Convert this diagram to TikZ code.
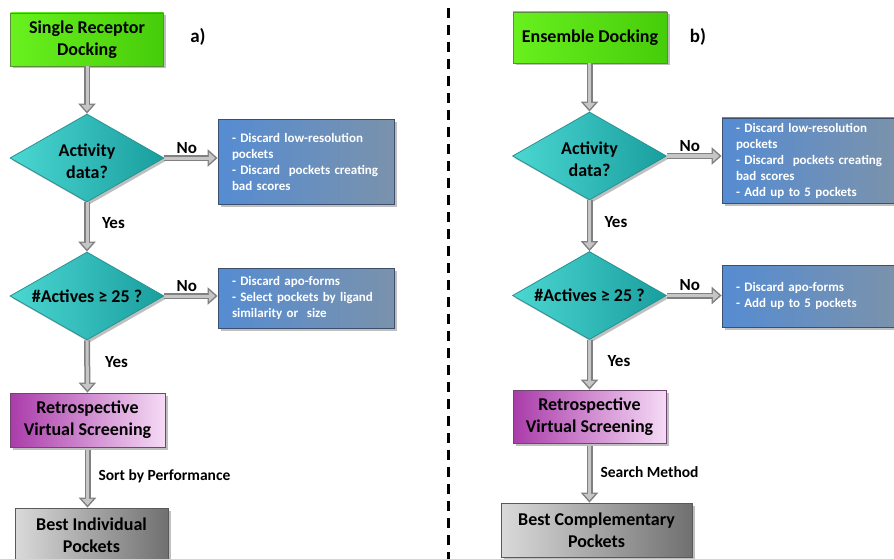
\documentclass[tikz,border=0pt]{standalone}
\usepackage{fontspec}
\setmainfont{Carlito}
\usetikzlibrary{shapes.geometric,arrows.meta,shadows}
\definecolor{grL}{RGB}{105,240,30}
\definecolor{grR}{RGB}{70,205,10}
\definecolor{grB}{RGB}{90,140,60}
\definecolor{tlL}{RGB}{75,215,210}
\definecolor{tlR}{RGB}{25,158,158}
\definecolor{tlB}{RGB}{40,145,145}
\definecolor{blL}{RGB}{85,140,210}
\definecolor{blR}{RGB}{122,146,172}
\definecolor{blB}{RGB}{60,80,110}
\definecolor{puL}{RGB}{170,60,170}
\definecolor{puR}{RGB}{245,218,245}
\definecolor{puB}{RGB}{110,70,110}
\definecolor{gyL}{RGB}{218,218,218}
\definecolor{gyR}{RGB}{112,112,112}
\definecolor{gyB}{RGB}{90,90,90}
\definecolor{arD}{RGB}{128,128,128}
\definecolor{arL}{RGB}{198,198,198}
\newcommand{\twolines}[2]{\raisebox{-5pt}[\height][\depth]{\begin{tabular}{@{}c@{}}#1\\#2\end{tabular}}}
\tikzset{
  base/.style={font=\bfseries\fontsize{18}{22}\selectfont, align=center, inner sep=0pt, line width=0.8pt,
    drop shadow={shadow xshift=2.5pt,shadow yshift=-2.5pt,opacity=0.5}},
  greenbox/.style={base, rectangle, draw=grB, left color=grL, right color=grR},
  decision/.style={base, diamond, aspect=1.75, draw=tlB, left color=tlL, right color=tlR,
    minimum width=154pt, minimum height=88pt},
  bluebox/.style={base, rectangle, draw=blB, left color=blL, right color=blR, text=white,
    font=\bfseries\fontsize{13}{16}\selectfont, align=left, inner xsep=14pt},
  purplebox/.style={base, rectangle, draw=puB, left color=puL, right color=puR},
  graybox/.style={base, rectangle, draw=gyB, left color=gyL, right color=gyR},
  lbl/.style={font=\bfseries\fontsize{17}{20}\selectfont, inner sep=0pt},
  slbl/.style={font=\bfseries\fontsize{15.5}{18}\selectfont, inner sep=0pt},
  garrow/.style={draw=arD, line width=6pt, -{Triangle[length=10pt,width=17pt]},
    postaction={draw=arL, line width=3pt, shorten >=2.3pt, -{Triangle[length=6.4pt,width=11pt]}}}
}
\begin{document}
\begin{tikzpicture}[x=1pt,y=-1pt]
\useasboundingbox (0,0) rectangle (894,559);
% ---------- left: a) ----------
\node[greenbox, minimum width=153pt, minimum height=53pt] (g1) at (87,39.5) {Single Receptor\\Docking};
\node[lbl, font=\bfseries\fontsize{19}{22}\selectfont] (la) at (198,37) {a)};
\node[decision] (d1) at (87,158) {\twolines{Activity}{data?}};
\node[bluebox, minimum height=85pt, text width=148pt] (b1) at (306,162)
  {\mbox{- Discard low-resolution}\\pockets\\\mbox{- Discard\ \ pockets creating}\\bad scores};
\node[decision] (d2) at (87,296) {\#Actives ≥ 25 ?};
\node[bluebox, minimum height=60pt, text width=148pt] (b2) at (306,298)
  {\mbox{- Discard apo-forms}\\\mbox{- Select pockets by ligand}\\\mbox{similarity or\ \ size}};
\node[purplebox, minimum width=155pt, minimum height=54pt] (p1) at (87.5,420) {Retrospective\\Virtual Screening};
\node[graybox, minimum width=153pt, minimum height=54pt] (q1) at (91.5,535) {Best Individual\\Pockets};

\draw[garrow] (g1.south) -- (d1.north);
\draw[garrow] (d1.east) -- (d1.east -| b1.west) node[lbl, pos=0.42, above=1.5pt] {No};
\draw[garrow] (d1.south) -- (d2.north) node[lbl, pos=0.42, right=12pt] {Yes};
\draw[garrow] (d2.east) -- (d2.east -| b2.west) node[lbl, pos=0.42, above=1.5pt] {No};
\draw[garrow] (d2.south) -- (p1.north) node[lbl, pos=0.42, right=15pt] {Yes};
\draw[garrow] ([yshift=-3pt]p1.south) -- (q1.north -| p1.south) node[slbl, pos=0.46, right=8pt] {Sort by Performance};

% ---------- divider ----------
\draw[line width=3pt, dash pattern=on 10pt off 7pt] (448,8) -- (448,559);

% ---------- right: b) ----------
\node[greenbox, minimum width=154pt, minimum height=51pt] (g2) at (590,37.5) {Ensemble Docking};
\node[lbl, font=\bfseries\fontsize{19}{22}\selectfont] (lb) at (698,37) {b)};
\node[decision] (d3) at (589.5,156) {\twolines{Activity}{data?}};
\node[bluebox, minimum height=85pt, text width=144pt] (b3) at (808,160.5)
  {\mbox{- Discard low-resolution}\\pockets\\\mbox{- Discard\ \ pockets creating}\\bad scores\\\mbox{- Add up to 5 pockets}};
\node[decision] (d4) at (589.5,295.5) {\#Actives ≥ 25 ?};
\node[bluebox, minimum height=62pt, text width=144pt] (b4) at (808,296)
  {\mbox{- Discard apo-forms}\\\mbox{- Add up to 5 pockets}};
\node[purplebox, minimum width=153pt, minimum height=53pt] (p2) at (589.5,416.5) {Retrospective\\Virtual Screening};
\node[graybox, minimum width=191pt, minimum height=54pt] (q2) at (596.5,530) {Best Complementary\\Pockets};

\draw[garrow] (g2.south -| d3.north) -- (d3.north);
\draw[garrow] (d3.east) -- (d3.east -| b3.west) node[lbl, pos=0.42, above=1.5pt] {No};
\draw[garrow] (d3.south) -- (d4.north) node[lbl, pos=0.42, right=12pt] {Yes};
\draw[garrow] (d4.east) -- (d4.east -| b4.west) node[lbl, pos=0.42, above=1.5pt] {No};
\draw[garrow] (d4.south) -- (p2.north) node[lbl, pos=0.42, right=15pt] {Yes};
\draw[garrow] ([yshift=-3pt]p2.south) -- (q2.north -| p2.south) node[slbl, pos=0.46, right=8pt] {Search Method};
\end{tikzpicture}
\end{document}
